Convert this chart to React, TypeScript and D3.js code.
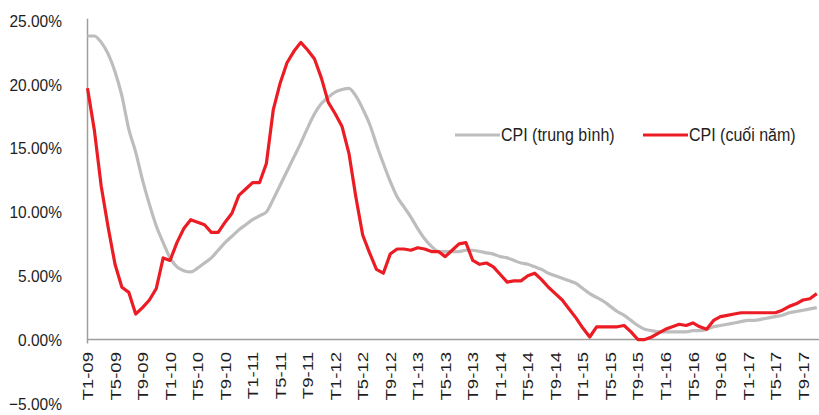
import React from "react";
import * as d3 from "d3";

const W = 819;
const H = 415;

const tickLabels = [
  "T1-09","T5-09","T9-09","T1-10","T5-10","T9-10","T1-11","T5-11","T9-11",
  "T1-12","T5-12","T9-12","T1-13","T5-13","T9-13","T1-14","T5-14","T9-14",
  "T1-15","T5-15","T9-15","T1-16","T5-16","T9-16","T1-17","T5-17","T9-17",
];
const tickStep = 4; // months between labels

const yTicks = [-5, 0, 5, 10, 15, 20, 25];

const seriesNames = ["CPI (trung bình)", "CPI (cuối năm)"];

// CPI (cuối năm) - monthly, Jan 2009 .. Nov 2017
const cpiEnd = [
  19.7, 16.4, 12.0, 8.8, 5.9, 4.1, 3.7, 2.0, 2.5, 3.1,
  4.0, 6.4, 6.2, 7.6, 8.7, 9.4, 9.2, 9.0, 8.4, 8.4,
  9.2, 9.9, 11.3, 11.8, 12.3, 12.3, 13.8, 18.0, 20.1, 21.7,
  22.6, 23.3, 22.7, 22.0, 20.5, 18.6, 17.7, 16.7, 14.6, 11.2,
  8.2, 6.8, 5.5, 5.2, 6.7, 7.1, 7.1, 7.0, 7.2, 7.1,
  6.9, 6.9, 6.5, 7.0, 7.5, 7.6, 6.2, 5.9, 6.0, 5.7,
  5.1, 4.5, 4.6, 4.6, 5.0, 5.2, 4.7, 4.1, 3.6, 3.1,
  2.4, 1.7, 0.9, 0.2, 1.0, 1.0, 1.0, 1.0, 1.1, 0.6,
  0.0, 0.0, 0.2, 0.5, 0.8, 1.0, 1.2, 1.1, 1.3, 1.0,
  0.8, 1.5, 1.8, 1.9, 2.0, 2.1, 2.1, 2.1, 2.1, 2.1,
  2.1, 2.3, 2.6, 2.8, 3.1, 3.2, 3.6,
];

// CPI (trung bình) - monthly
const cpiAvg = [
  23.8, 23.8, 23.3, 22.4, 21.0, 19.1, 16.5, 14.7, 12.5, 10.6,
  8.9, 7.6, 6.4, 5.7, 5.4, 5.3, 5.6, 6.0, 6.4, 7.0,
  7.6, 8.1, 8.6, 9.0, 9.4, 9.7, 10.0, 11.0, 12.1, 13.2,
  14.3, 15.4, 16.6, 17.7, 18.5, 19.0, 19.4, 19.6, 19.7, 19.1,
  18.1, 16.9, 15.3, 13.8, 12.4, 11.2, 10.4, 9.6, 8.7, 7.9,
  7.3, 6.9, 6.9, 6.9, 6.9, 7.0, 7.0, 6.9, 6.8, 6.7,
  6.5, 6.4, 6.2, 6.0, 5.9, 5.7, 5.5, 5.2, 5.0, 4.8,
  4.6, 4.4, 4.0, 3.6, 3.3, 3.0, 2.6, 2.2, 1.9, 1.5,
  1.1, 0.8, 0.7, 0.6, 0.6, 0.6, 0.6, 0.6, 0.7, 0.7,
  0.8, 1.0, 1.1, 1.2, 1.3, 1.4, 1.5, 1.5, 1.6, 1.7,
  1.8, 1.9, 2.1, 2.2, 2.3, 2.4, 2.5,
];

const FONT = "'Liberation Sans', Arial, sans-serif";
const GRAY = "#bdbdbd";
const RED = "#ec1c24";
const AXIS = "#9e9e9e";
const TEXT = "#1e1e1e";

export default function App() {
  const x = d3.scaleLinear().domain([0, 104]).range([87.5, 803]);
  const y = d3.scaleLinear().domain([-5, 25]).range([403.3, 20.7]);

  const lineSmooth = d3
    .line<number>()
    .x((_, i) => x(i))
    .y((d) => y(d))
    .curve(d3.curveMonotoneX);

  const lineRed = d3
    .line<number>()
    .x((_, i) => x(i))
    .y((d) => y(d))
    .curve(d3.curveLinear);

  const legendY = 135;
  const vs = (cy: number, s: number) => `translate(0 ${cy}) scale(1 ${s}) translate(0 ${-cy})`;

  return (
    <svg
      width={W}
      height={H}
      style={{ position: "absolute", left: 0, top: 0, display: "block", background: "#fff" }}
      fontFamily={FONT}
    >
      <defs>
        <clipPath id="plot">
          <rect x={0} y={0} width={W} height={H} />
        </clipPath>
      </defs>
      {/* y tick labels */}
      {yTicks.map((t) => (
        <text
          key={t}
          x={62}
          y={y(t)}
          dy="0.36em"
          textAnchor="end"
          fontSize={15.5}
          fill={TEXT}
          transform={vs(y(t), 1.12)}
        >
          {d3.format(".2f")(t) + "%"}
        </text>
      ))}
      {/* axes */}
      <line x1={x(0)} x2={x(0)} y1={y(25) - 2} y2={y(0) + 4} stroke={AXIS} strokeWidth={1.5} />
      <line x1={x(0)} x2={W} y1={y(0)} y2={y(0)} stroke={AXIS} strokeWidth={1.5} />
      {/* x tick labels */}
      {tickLabels.map((lab, k) => {
        const px = x(k * tickStep);
        const py = 352;
        return (
          <text
            key={lab}
            x={0}
            y={0}
            dy="0.36em"
            textAnchor="end"
            fontSize={15.5}
            fill={TEXT}
            transform={`translate(${px} ${py}) rotate(-90) scale(1.2 1)`}
          >
            {lab}
          </text>
        );
      })}
      {/* lines */}
      <g clipPath="url(#plot)">
        <path d={lineSmooth(cpiAvg) || ""} fill="none" stroke={GRAY} strokeWidth={3.2} strokeLinejoin="round" />
        <path d={lineRed(cpiEnd) || ""} fill="none" stroke={RED} strokeWidth={3.2} strokeLinejoin="round" />
      </g>
      {/* legend */}
      <line x1={455} x2={500} y1={legendY} y2={legendY} stroke={GRAY} strokeWidth={3.2} />
      <text x={501} y={legendY} dy="0.36em" fontSize={16} fill={TEXT} transform={vs(legendY, 1.1)}>
        {seriesNames[0]}
      </text>
      <line x1={643} x2={688} y1={legendY} y2={legendY} stroke={RED} strokeWidth={3.2} />
      <text x={689} y={legendY} dy="0.36em" fontSize={16} fill={TEXT} transform={vs(legendY, 1.1)}>
        {seriesNames[1]}
      </text>
    </svg>
  );
}
